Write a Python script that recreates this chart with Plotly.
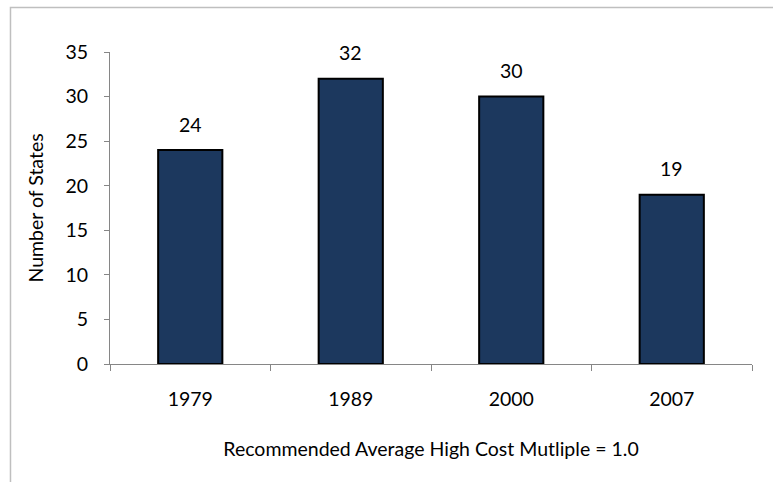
import plotly.graph_objects as go

years = ["1979", "1989", "2000", "2007"]
states = [24, 32, 30, 19]
y_ticks = [0, 5, 10, 15, 20, 25, 30, 35]

FONT = "Lato"
FS = 19.5
AX = "#868686"

fig = go.Figure()
fig.add_trace(go.Bar(
    x=years, y=states, width=0.4,
    marker=dict(color="#1C385E", line=dict(color="black", width=2)),
    hoverinfo="skip",
))

for i, v in enumerate(states):
    fig.add_annotation(x=i, y=v, text=str(v), showarrow=False,
                       yshift=26, font=dict(family=FONT, size=FS, color="black"))

fig.add_shape(type="rect", xref="paper", yref="paper",
              x0=-0.1550, x1=1.2, y0=-0.6, y1=1.1426,
              line=dict(color="#BFBFBF", width=1.5), layer="below")

fig.update_layout(
    width=773, height=482,
    margin=dict(l=110, r=21, t=52, b=118),
    plot_bgcolor="white", paper_bgcolor="white",
    showlegend=False,
    font=dict(family=FONT, size=FS, color="black"),
    xaxis=dict(
        type="category", categoryorder="array", categoryarray=years,
        range=[-0.5, len(years) - 0.5],
        showline=True, linecolor=AX, linewidth=1,
        ticks="outside", tickson="boundaries", ticklen=6, tickcolor=AX,
        showgrid=False, zeroline=False, tickangle=0, ticklabelstandoff=18,
        tickfont=dict(family=FONT, size=FS),
        title=dict(text="Recommended Average High Cost Mutliple = 1.0",
                   font=dict(family=FONT, size=FS), standoff=32),
    ),
    yaxis=dict(
        range=[0, 35], tickvals=y_ticks, showline=True, linecolor=AX, linewidth=1,
        ticks="outside", ticklen=5, tickcolor=AX, showgrid=False, zeroline=False,
        ticklabelstandoff=12,
        tickfont=dict(family=FONT, size=FS),
        title=dict(text="Number of States", font=dict(family=FONT, size=FS), standoff=16),
    ),
)

fig.write_html("out.html")
